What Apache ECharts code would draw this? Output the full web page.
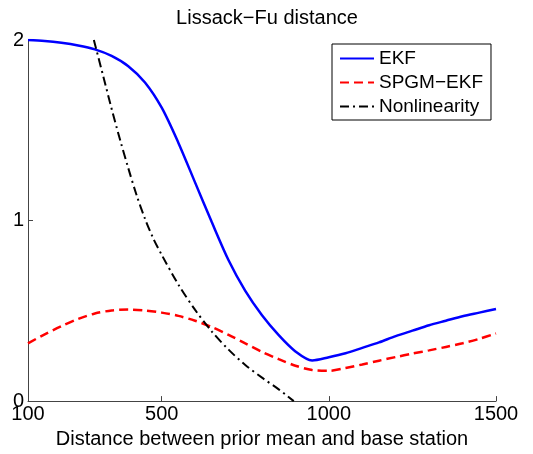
<!DOCTYPE html>
<html>
<head>
<meta charset="utf-8">
<script src="https://cdn.jsdelivr.net/npm/echarts@6/dist/echarts.min.js"></script>
<style>html,body{margin:0;padding:0;background:#fff;}#c{width:533px;height:454px;}</style>
</head>
<body>
<div id="c"></div>
<script>
// Data
var xGrid = [100,150,200,250,300,350,400,450,500,550,600,650,700,750,800,850,900,950,1000,1050,1100,1150,1200,1250,1300,1350,1400,1450,1500];
var ekfY = [2.00,1.995,1.985,1.97,1.948,1.912,1.855,1.765,1.625,1.43,1.21,0.99,0.78,0.61,0.475,0.365,0.275,0.225,0.243,0.265,0.295,0.325,0.36,0.39,0.42,0.445,0.47,0.49,0.51];
var spgmY = [0.32,0.37,0.415,0.455,0.485,0.502,0.507,0.502,0.49,0.472,0.445,0.41,0.367,0.32,0.273,0.232,0.196,0.172,0.168,0.183,0.203,0.224,0.244,0.263,0.281,0.30,0.32,0.345,0.375];
var nlX = [297,325,350,375,400,425,450,475,500,550,600,650,700,750,800,850,895];
var nlY = [2.00,1.80,1.62,1.45,1.29,1.14,1.01,0.90,0.81,0.645,0.505,0.385,0.285,0.20,0.13,0.065,0.0];
var xTicks = [100,500,1000,1500];
var seriesNames = ['EKF','SPGM\u2212EKF','Nonlinearity'];
var titleText = 'Lissack\u2212Fu distance';
var xName = 'Distance between prior mean and base station';

function pairs(xs, ys){ var out=[]; for(var i=0;i<xs.length;i++){ out.push([xs[i], ys[i]]); } return out; }

var chart = echarts.init(document.getElementById('c'), null, {renderer:'canvas'});
var FONT = "'Liberation Sans', Arial, Helvetica, sans-serif";
var axisCol = '#444';
chart.setOption({
  animation: false,
  backgroundColor: '#fff',
  textStyle: {fontFamily: FONT, color: '#000'},
  title: {
    text: titleText, left: 262, top: 3, textAlign: 'center',
    textStyle: {fontFamily: FONT, fontSize: 20, fontWeight: 'normal', color: '#000'}
  },
  legend: {
    data: seriesNames, orient: 'vertical', left: 332, top: 44,
    padding: [5, 8, 4, 7], itemWidth: 34, itemHeight: 14, itemGap: 5,
    borderColor: '#000', borderWidth: 1, backgroundColor: '#fff',
    itemStyle: {opacity: 0},
    textStyle: {fontFamily: FONT, fontSize: 19, lineHeight: 19, color: '#000'}
  },
  grid: {left: 28, right: 37, top: 40, bottom: 47, containLabel: false},
  xAxis: {
    type: 'value', min: 100, max: 1500,
    name: xName, nameLocation: 'middle', nameGap: 26,
    nameTextStyle: {fontFamily: FONT, fontSize: 20, color: '#000'},
    axisLine: {show: true, onZero: false, lineStyle: {color: axisCol, width: 1}},
    axisTick: {show: true, inside: true, length: 5, customValues: xTicks, lineStyle: {color: axisCol}},
    axisLabel: {customValues: xTicks, fontSize: 20, color: '#000', margin: 3, fontFamily: FONT,
      formatter: function(v){ return String(v); }},
    splitLine: {show: false}
  },
  yAxis: {
    type: 'value', min: 0, max: 2, interval: 1,
    axisLine: {show: true, lineStyle: {color: axisCol, width: 1}},
    axisTick: {show: true, inside: true, length: 5, lineStyle: {color: axisCol}},
    axisLabel: {fontSize: 20, color: '#000', margin: 4, fontFamily: FONT},
    splitLine: {show: false}
  },
  series: [
    {name: seriesNames[0], type: 'line', symbol: 'none', showSymbol: false, smooth: 0.3, data: pairs(xGrid, ekfY),
     lineStyle: {color: '#0000ff', width: 2.5, type: 'solid'}, itemStyle: {color: '#0000ff'}},
    {name: seriesNames[1], type: 'line', symbol: 'none', showSymbol: false, smooth: 0.3, data: pairs(xGrid, spgmY),
     lineStyle: {color: '#ff0000', width: 2.5, type: [9, 5]}, itemStyle: {color: '#ff0000'}},
    {name: seriesNames[2], type: 'line', symbol: 'none', showSymbol: false, smooth: 0.3, data: pairs(nlX, nlY),
     lineStyle: {color: '#000000', width: 2, type: [9, 4, 2, 4]}, itemStyle: {color: '#000000'}}
  ]
});
</script>
</body>
</html>
